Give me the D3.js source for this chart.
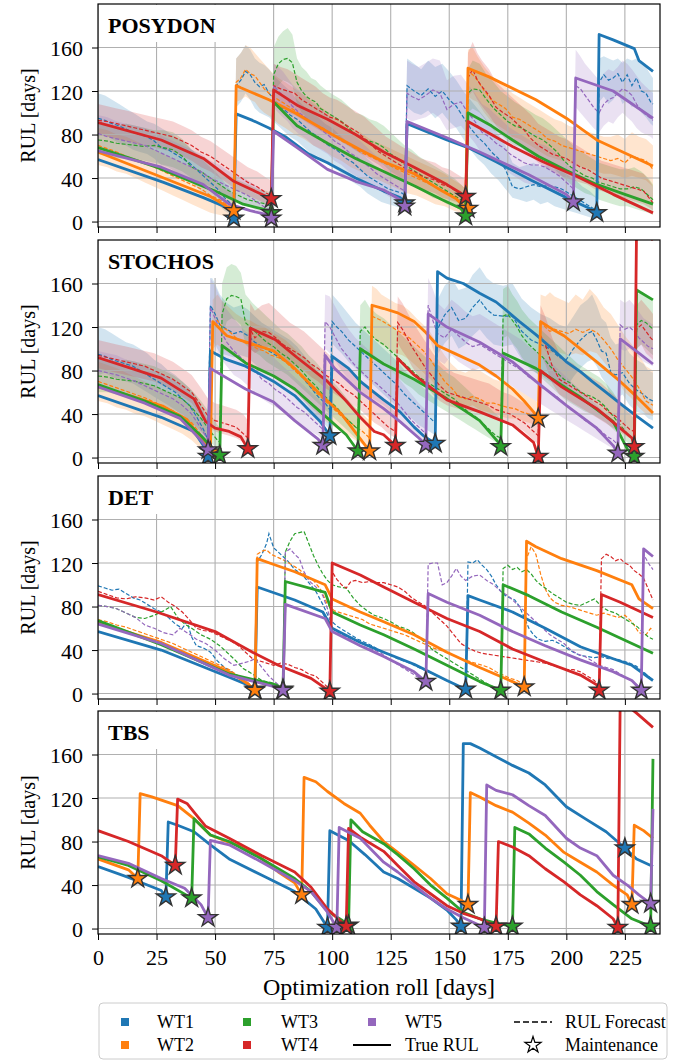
<!DOCTYPE html>
<html>
<head>
<meta charset="utf-8">
<script src="https://cdn.jsdelivr.net/npm/d3@7"></script>
<style>
  body { margin: 0; background: #fff; }
  svg text { font-family: "Liberation Serif"; }
</style>
</head>
<body>
<div id="chart"></div>
<script>
const turbines = ["WT1", "WT2", "WT3", "WT4", "WT5"];
const turbineColors = ["#1f77b4", "#ff7f0e", "#2ca02c", "#d62728", "#9467bd"];
const panelNames = ["POSYDON", "STOCHOS", "DET", "TBS"];
const xTicks = [0, 25, 50, 75, 100, 125, 150, 175, 200, 225];
const yTicks = [0, 40, 80, 120, 160];

// true RUL, one [day, rul] list per turbine
const posydonTrue = [
  [[0,57],[28,36],[45,22],[56,12],[58,4],[59,99],[66,93],[73,86],[80,78],[90,62],[98,54],[110,40],[122,28],[129,22],[131,18],[132,90],[149,75],[158,68],[170,55],[185,38],[200,22],[210,12],[213,8],[214,172],[220,167],[229,159],[231,148],[237,138]],
  [[0,64],[27,41],[48,23],[55,14],[58,10],[59,125],[61,123],[73,112],[84,100],[100,80],[112,66],[122,55],[135,44],[147,28],[153,21],[157,12],[158,141],[167,133],[187,112],[200,95],[213,75],[237,51]],
  [[0,68],[25,50],[50,28],[62,16],[73,10],[74,8],[75,110],[85,88],[98,72],[110,58],[122,46],[135,33],[147,20],[155,12],[157,5],[158,100],[168,88],[177,75],[188,60],[200,47],[212,35],[225,25],[237,16]],
  [[0,91],[27,75],[45,58],[58,37],[66,29],[74,21],[75,121],[85,107],[98,94],[110,80],[122,64],[135,50],[149,34],[155,26],[157,23],[158,92],[168,80],[177,69],[190,55],[205,41],[220,25],[237,8]],
  [[0,65],[27,50],[45,34],[56,16],[65,10],[73,6],[74,3],[75,83],[85,68],[98,48],[110,37],[122,29],[129,20],[131,14],[132,92],[149,77],[163,64],[184,43],[200,25],[203,18],[204,132],[220,120],[237,95]]
];

const stochosTrue = [
  [[0,57],[27,37],[41,24],[45,11],[47,1],[48,98],[55,90],[63,84],[75,70],[84,57],[95,33],[99,20],[100,93],[107,82],[112,70],[122,53],[129,42],[135,28],[139,20],[144,13],[145,171],[149,165],[156,160],[163,151],[170,143],[174,136],[180,125],[187,113],[194,100],[200,88],[206,79],[211,70],[217,60],[224,48],[230,38],[237,27]],
  [[0,65],[15,56],[28,47],[38,35],[44,18],[48,5],[49,125],[55,112],[62,107],[75,98],[84,82],[95,58],[104,40],[110,23],[116,6],[117,140],[122,137],[128,133],[135,125],[140,115],[145,103],[152,96],[163,85],[170,75],[177,63],[182,52],[186,42],[188,36],[189,125],[194,118],[199,112],[206,100],[213,88],[218,79],[223,70],[230,56],[237,41]],
  [[0,67],[20,52],[35,38],[44,20],[50,6],[52,2],[53,103],[63,87],[75,75],[84,63],[95,42],[106,21],[111,6],[112,100],[122,86],[135,72],[149,54],[163,34],[171,14],[172,10],[173,96],[187,82],[205,57],[220,33],[226,8],[229,1],[230,154],[237,145]],
  [[0,92],[27,73],[41,54],[46,33],[50,27],[56,24],[61,19],[64,8],[65,119],[76,108],[85,92],[98,70],[106,52],[112,37],[118,24],[122,21],[126,13],[127,11],[128,91],[135,76],[149,53],[163,42],[177,30],[186,14],[188,1],[189,80],[198,65],[213,45],[223,27],[228,18],[229,10],[230,213],[237,200]],
  [[0,65],[20,50],[35,36],[44,16],[47,7],[48,82],[63,63],[75,51],[84,34],[94,17],[96,11],[97,94],[101,82],[112,60],[122,45],[129,33],[137,18],[140,12],[141,132],[149,120],[163,106],[177,88],[187,70],[200,48],[213,27],[220,11],[222,4],[223,109],[231,96],[237,86]]
];

const detTrue = [
  [[0,57],[27,40],[56,15],[64,8],[67,4],[68,98],[76,92],[84,86],[96,75],[100,60],[112,47],[122,38],[135,27],[149,12],[157,4],[158,90],[163,86],[177,75],[191,60],[206,43],[220,32],[228,26],[237,12]],
  [[0,65],[27,47],[56,20],[64,9],[67,3],[68,124],[76,118],[84,112],[97,100],[100,87],[112,75],[122,66],[135,54],[149,38],[163,24],[177,11],[182,6],[183,140],[187,135],[198,124],[213,113],[228,100],[231,87],[237,78]],
  [[0,67],[27,45],[56,18],[76,8],[79,4],[80,103],[97,93],[100,75],[112,63],[122,54],[135,41],[149,26],[163,11],[172,3],[173,100],[184,90],[198,75],[213,61],[237,37]],
  [[0,91],[25,75],[50,57],[66,38],[77,26],[91,14],[99,2],[100,120],[112,109],[122,98],[135,84],[149,69],[163,57],[177,41],[191,29],[206,17],[213,8],[214,3],[215,91],[223,84],[237,70]],
  [[0,64],[27,46],[56,17],[76,6],[79,3],[80,82],[97,69],[100,57],[112,44],[122,34],[135,20],[140,11],[141,92],[149,84],[163,72],[177,57],[191,44],[206,31],[220,20],[228,12],[232,3],[233,133],[237,126]]
];

const tbsTrue = [
  [[0,57],[13,47],[27,35],[29,29],[30,98],[34,95],[41,89],[48,77],[56,64],[70,49],[84,34],[93,18],[98,1],[99,90],[107,81],[114,68],[122,52],[128,46],[135,37],[142,28],[149,17],[153,8],[155,2],[156,170],[159,170],[163,166],[170,158],[177,150],[184,143],[191,132],[200,112],[208,101],[217,89],[225,74],[230,64],[237,57]],
  [[0,64],[13,54],[17,46],[18,124],[23,121],[34,113],[41,101],[48,86],[55,80],[63,74],[70,64],[77,52],[84,42],[87,31],[88,139],[93,135],[98,126],[105,115],[112,106],[116,95],[122,80],[128,70],[135,58],[142,46],[149,32],[155,26],[158,22],[159,125],[163,121],[170,113],[177,107],[184,97],[191,86],[199,70],[206,61],[213,52],[220,40],[226,31],[228,22],[229,95],[233,90],[237,83]],
  [[0,66],[13,58],[27,44],[40,28],[41,101],[48,86],[56,80],[70,64],[84,46],[91,34],[98,16],[104,8],[107,3],[108,100],[113,89],[122,78],[128,68],[135,55],[142,40],[149,28],[156,15],[163,9],[170,5],[177,2],[178,93],[184,87],[191,74],[199,61],[206,49],[213,34],[220,22],[228,9],[236,2],[237,156]],
  [[0,90],[13,80],[27,67],[33,58],[34,119],[38,115],[41,107],[46,94],[56,83],[70,67],[84,52],[91,38],[98,18],[106,2],[107,92],[112,84],[122,71],[128,58],[135,43],[142,32],[149,21],[156,14],[163,9],[170,2],[171,80],[177,75],[184,67],[191,55],[199,43],[206,31],[213,21],[220,9],[222,1],[223,210],[230,198],[237,185]],
  [[0,67],[13,60],[27,46],[37,37],[44,22],[47,10],[48,81],[56,77],[70,61],[84,44],[91,34],[98,15],[102,1],[103,93],[112,83],[122,61],[128,52],[135,40],[142,28],[149,18],[156,10],[162,4],[165,1],[166,132],[170,127],[177,123],[184,113],[191,104],[200,83],[206,74],[213,67],[220,49],[226,40],[231,31],[236,23],[237,110]]
];

// RUL forecasts with uncertainty band: [day, lower, mean, upper]
const posydonForecast = [
  [[0,78,95,118],[3,80,93,116],[6,76,90,112],[9,72,88,108],[12,70,85,104],[15,66,82,100],[18,64,80,96],[21,62,78,92],[24,58,74,90],[27,52,68,86],[30,50,66,82],[33,46,62,78],[36,42,58,74],[39,38,54,68],[42,32,48,62],[45,26,42,56],[48,20,36,50],[51,16,30,44],[54,10,22,36],[57,6,16,28],[58,4,12,24],
   [59,105,125,150],[61,110,130,155],[63,118,138,162],[65,112,135,158],[67,104,128,150],[69,100,124,146],[71,98,126,144],[73,96,118,140],[76,90,110,132],[79,84,104,126],[82,78,98,120],[85,74,94,112],[88,68,88,106],[91,62,82,100],[94,60,78,96],[97,54,72,90],[100,50,68,86],[103,46,64,80],[106,40,58,74],[109,36,54,70],[112,32,48,64],[115,26,42,58],[118,22,38,52],[121,18,34,48],[124,16,30,44],[127,14,28,42],[130,12,26,40],[131,10,24,38],
   [132,105,125,150],[135,100,120,145],[138,98,116,140],[141,102,122,148],[144,95,115,142],[147,100,120,145],[150,92,112,138],[153,86,106,130],[156,76,96,120],[159,66,86,112],[162,58,78,104],[165,52,72,96],[168,44,64,88],[171,38,58,80],[174,30,48,70],[177,22,32,54],[180,20,30,50],[183,18,32,52],[186,20,34,54],[189,16,32,50],[192,18,33,52],[195,14,32,48],[198,12,30,46],[201,10,26,42],[204,8,22,38],[207,6,18,32],[210,4,14,28],[213,2,10,22],
   [214,110,128,150],[216,115,135,152],[218,108,130,150],[220,112,132,148],[222,118,136,150],[224,108,128,146],[226,112,135,150],[228,105,125,148],[230,110,132,150],[232,100,120,145],[234,96,118,142],[236,90,110,135],[237,88,108,132]],
  [[0,52,70,86],[4,50,67,84],[8,46,64,80],[12,44,60,78],[16,40,57,74],[20,36,54,70],[24,32,50,66],[28,28,46,62],[32,24,42,58],[36,20,38,54],[40,16,34,50],[44,12,30,46],[48,8,24,40],[52,6,20,34],[56,4,14,28],[58,3,12,24],
   [59,110,128,150],[61,112,132,155],[63,115,140,162],[65,112,136,160],[67,110,134,155],[69,104,128,150],[71,100,122,145],[74,96,116,138],[77,90,112,132],[80,86,108,128],[84,80,102,122],[88,76,96,116],[92,70,90,110],[96,66,86,104],[100,60,80,98],[104,56,74,92],[108,50,70,86],[112,46,64,82],[116,42,60,76],[120,38,56,72],[124,34,52,68],[128,30,48,64],[132,26,44,60],[136,24,40,56],[140,20,36,52],[144,16,32,48],[148,14,28,44],[152,10,24,38],[155,8,20,34],[157,6,16,30],
   [158,115,138,158],[160,112,135,160],[162,110,130,152],[165,100,120,142],[168,92,112,134],[171,88,108,128],[174,84,104,124],[177,78,96,118],[180,76,94,114],[183,72,90,110],[186,68,86,106],[189,64,82,102],[192,60,76,98],[195,58,74,94],[198,56,70,92],[201,54,68,88],[204,52,66,86],[207,50,64,84],[210,48,62,82],[213,46,60,80],[216,44,58,78],[219,44,56,78],[222,42,58,80],[225,40,54,76],[228,42,60,82],[231,40,58,78],[234,38,56,76],[237,32,48,70]],
  [[0,62,75,92],[4,60,74,90],[8,58,72,88],[12,58,71,90],[16,56,70,88],[20,56,69,86],[24,54,70,84],[28,52,68,84],[32,50,66,82],[36,46,60,76],[40,40,50,66],[44,36,46,60],[48,32,40,54],[52,28,34,48],[56,22,28,42],[60,18,24,38],[64,14,20,34],[68,12,18,30],[72,10,16,28],[74,8,14,26],
   [75,115,135,160],[77,125,145,170],[79,130,149,175],[81,128,150,178],[83,125,146,172],[85,108,128,150],[87,100,120,142],[89,96,115,138],[91,92,112,132],[93,90,110,130],[95,86,104,125],[98,82,100,120],[101,78,96,116],[104,74,92,112],[107,70,86,106],[110,66,80,100],[113,62,76,98],[116,60,74,94],[119,56,72,92],[122,52,68,88],[125,46,62,82],[128,42,58,76],[131,38,52,70],[134,34,48,66],[137,30,44,60],[140,26,40,56],[143,22,36,52],[146,20,32,48],[149,16,28,44],[152,14,24,40],[155,10,20,34],[157,8,16,30],
   [158,100,118,140],[160,104,122,148],[163,100,121,145],[166,92,112,135],[169,84,104,128],[172,80,98,120],[175,74,92,115],[178,70,88,110],[181,68,86,106],[184,64,82,102],[187,60,78,98],[190,56,75,95],[193,52,70,90],[196,46,64,84],[199,40,56,78],[202,34,50,72],[205,30,46,66],[208,26,42,62],[211,24,40,58],[214,20,36,54],[217,18,34,52],[220,16,32,50],[223,14,30,48],[226,14,30,48],[229,12,32,50],[232,10,30,46],[235,8,24,40],[237,6,20,34]],
  [[0,80,93,108],[4,78,92,106],[8,76,90,104],[12,74,88,102],[16,72,86,100],[20,70,84,98],[24,68,82,96],[28,66,80,94],[32,64,78,92],[36,60,74,88],[40,56,70,84],[44,50,64,78],[48,46,60,74],[52,40,54,68],[56,34,48,62],[60,28,42,56],[64,24,36,50],[68,20,32,46],[72,16,26,40],[74,14,24,38],
   [75,108,125,145],[78,104,122,142],[81,100,120,140],[84,98,118,136],[87,94,112,132],[90,90,108,128],[93,86,104,124],[96,82,100,118],[99,78,96,114],[102,76,94,112],[105,72,90,108],[108,68,86,104],[111,64,82,100],[114,60,76,96],[117,56,70,90],[120,52,64,84],[123,46,60,78],[126,42,56,74],[129,40,52,70],[132,36,48,66],[135,34,46,62],[138,30,42,58],[141,28,40,56],[144,26,38,54],[147,22,34,50],[150,20,32,48],[153,18,28,44],[156,16,25,40],[157,14,24,38],
   [158,115,132,155],[160,120,140,165],[162,112,130,155],[164,106,124,148],[167,98,116,140],[170,88,105,128],[173,82,100,122],[176,78,96,116],[179,72,90,110],[182,66,84,104],[185,60,76,98],[188,54,70,90],[191,50,66,86],[194,46,62,82],[197,42,60,78],[200,40,58,76],[203,38,54,72],[206,36,50,68],[209,34,48,64],[212,30,44,60],[215,28,40,56],[218,26,38,54],[221,24,36,52],[224,22,34,50],[227,20,32,48],[230,18,30,46],[233,16,28,44],[236,12,20,36],[237,10,17,32]],
  [[0,66,81,98],[4,64,78,96],[8,62,76,92],[12,60,74,90],[16,58,72,88],[20,56,70,86],[24,52,66,82],[28,48,62,78],[32,46,58,74],[36,42,54,70],[40,38,50,66],[44,34,46,62],[48,30,40,56],[52,26,36,52],[56,22,32,46],[60,18,28,42],[64,14,24,38],[68,10,18,32],[72,6,12,26],[74,5,10,24],
   [75,105,125,145],[77,100,120,142],[79,96,116,138],[81,92,112,132],[83,86,106,126],[86,80,100,120],[89,76,95,114],[92,70,90,108],[95,66,85,104],[98,62,80,98],[101,56,74,92],[104,52,70,88],[107,46,64,82],[110,42,60,78],[113,38,55,72],[116,34,50,66],[119,30,44,60],[122,26,40,56],[125,22,36,52],[128,18,32,48],[131,14,28,42],
   [132,95,118,148],[134,92,115,145],[137,94,112,142],[140,96,116,146],[143,100,121,150],[146,95,118,148],[149,84,103,130],[152,86,108,134],[155,88,110,135],[158,80,100,126],[161,72,92,118],[164,62,82,108],[167,58,78,104],[170,54,72,98],[173,50,68,92],[176,44,62,86],[179,40,58,82],[182,36,54,78],[185,34,52,74],[188,34,52,72],[191,32,50,70],[194,30,46,66],[197,26,42,60],[200,22,36,54],[203,18,30,48],
   [204,105,125,158],[206,100,122,152],[208,95,116,145],[210,90,110,140],[212,85,104,135],[214,82,100,130],[216,88,108,136],[218,92,112,140],[220,90,114,138],[222,96,118,142],[224,100,122,148],[226,96,120,145],[228,92,116,140],[230,86,108,134],[232,82,102,128],[234,80,98,124],[236,78,95,120],[237,76,93,118]]
];

const stochosForecast = [
  [[0,76,95,120],[3,78,93,118],[6,74,90,114],[9,72,88,110],[12,70,86,106],[15,68,84,104],[18,64,80,100],[21,60,76,96],[24,56,72,90],[27,52,68,86],[30,48,64,80],[33,44,60,76],[36,38,54,70],[39,32,48,64],[42,24,38,56],[45,14,26,44],[47,6,16,34],
   [48,110,140,168],[50,104,132,160],[52,96,122,150],[55,94,118,142],[58,92,114,138],[61,94,116,140],[64,92,112,136],[67,86,106,130],[70,80,102,124],[73,78,98,120],[76,74,94,116],[79,70,90,112],[82,66,86,108],[85,60,80,102],[88,52,72,94],[91,44,64,86],[94,36,56,78],[97,30,50,70],[99,26,44,64],
   [100,105,125,150],[102,100,120,145],[104,96,116,140],[107,88,108,132],[110,82,102,124],[113,76,96,118],[116,70,90,112],[119,64,84,106],[122,58,78,100],[125,52,72,94],[128,46,66,88],[131,40,58,80],[134,36,52,74],[137,30,46,68],[140,26,40,62],[143,22,34,56],[144,20,32,54],
   [145,95,118,145],[148,105,131,158],[151,112,138,165],[154,100,126,154],[157,104,128,156],[160,112,138,168],[163,118,145,175],[166,110,136,165],[169,104,131,160],[173,102,130,158],[177,104,130,160],[181,90,116,146],[185,80,108,138],[189,76,104,132],[193,70,100,128],[197,66,92,122],[200,64,90,120],[203,74,100,130],[206,82,108,140],[209,88,114,145],[211,90,116,150],[213,84,108,140],[215,74,98,128],[217,68,96,124],[219,56,78,110],[221,54,76,104],[224,58,78,106],[227,48,68,96],[230,42,62,90],[233,40,58,86],[235,36,54,80],[237,34,52,78]],
  [[0,52,70,88],[4,50,67,85],[8,46,64,82],[12,44,61,78],[16,40,58,74],[20,38,55,70],[24,34,51,66],[28,30,47,62],[32,26,43,58],[36,22,38,54],[40,16,32,48],[43,10,24,40],[46,4,14,30],[48,2,8,24],
   [49,100,122,145],[51,104,126,150],[53,100,120,144],[56,96,116,138],[59,92,110,132],[62,88,106,128],[65,86,104,126],[68,82,100,122],[71,80,98,120],[74,76,94,116],[77,72,92,112],[80,68,88,108],[83,62,82,102],[86,56,76,96],[89,50,70,90],[92,44,62,84],[95,38,56,76],[98,32,50,70],[101,28,44,64],[104,24,38,58],[107,20,34,52],[110,16,28,46],[113,12,24,40],[116,8,18,34],
   [117,110,130,158],[119,108,128,155],[121,104,126,150],[124,100,122,146],[127,96,118,142],[130,94,114,140],[133,90,110,135],[136,84,104,128],[139,78,98,122],[142,72,90,115],[145,64,80,104],[148,56,70,94],[151,50,64,86],[154,46,56,80],[157,46,54,78],[160,48,56,82],[163,44,54,80],[166,42,50,76],[169,40,50,72],[172,38,48,70],[175,36,46,66],[178,36,45,64],[181,34,42,60],[184,32,40,56],[187,30,38,52],[188,30,37,50],
   [189,105,125,150],[191,98,120,148],[193,96,116,152],[195,98,118,148],[198,96,116,145],[201,94,114,142],[204,96,118,150],[207,94,115,145],[210,98,118,155],[213,96,115,148],[216,88,108,138],[219,80,100,132],[222,70,90,122],[225,60,82,112],[228,54,74,104],[231,46,64,94],[234,40,52,84],[237,38,48,80]],
  [[0,60,75,92],[4,60,74,90],[8,58,72,88],[12,56,71,90],[16,56,70,88],[20,54,68,86],[24,52,66,84],[28,48,62,80],[32,44,58,76],[36,40,54,70],[40,32,46,62],[44,24,36,52],[48,14,24,40],[51,8,16,30],[52,6,14,28],
   [53,110,132,160],[55,125,146,175],[57,128,149,178],[59,126,148,176],[61,122,146,170],[63,104,124,150],[66,98,118,142],[69,94,112,136],[72,88,106,130],[75,84,102,124],[78,80,96,118],[81,76,92,114],[84,70,86,108],[87,64,80,102],[90,58,72,94],[93,52,66,88],[96,46,58,80],[99,40,52,72],[102,34,46,66],[105,28,38,58],[108,22,32,50],[111,16,26,44],
   [112,96,116,140],[114,100,120,145],[116,94,114,138],[119,90,108,132],[122,86,104,128],[125,80,98,122],[128,74,92,116],[131,68,86,110],[134,64,80,104],[137,58,74,98],[140,54,70,92],[143,50,66,88],[146,46,62,84],[149,42,58,78],[152,38,54,74],[155,34,48,68],[158,30,42,62],[161,26,38,56],[164,22,32,52],[167,18,26,46],[170,14,20,40],[172,12,18,36],
   [173,110,130,155],[175,112,132,158],[177,105,126,150],[179,100,120,144],[181,92,112,136],[184,84,104,128],[187,78,98,122],[190,72,92,116],[193,66,84,110],[196,60,78,104],[199,54,72,98],[202,50,68,92],[205,46,62,86],[208,42,58,82],[211,40,56,78],[214,36,52,74],[217,32,46,68],[220,26,38,60],[223,20,30,50],[226,14,22,42],[229,10,16,36],
   [230,100,122,150],[232,104,126,152],[234,100,124,150],[236,96,120,146],[237,94,118,144]],
  [[0,82,94,108],[4,80,92,106],[8,78,90,104],[12,76,88,102],[16,74,86,100],[20,72,84,98],[24,70,80,96],[28,66,76,92],[32,62,72,88],[36,56,66,82],[40,50,60,76],[44,38,48,64],[47,28,38,54],[50,24,34,50],[53,22,32,48],[56,20,30,46],[59,18,28,44],[62,14,22,40],[64,10,18,34],
   [65,100,118,142],[67,96,110,135],[70,100,116,140],[73,102,115,142],[76,96,110,136],[79,90,104,130],[82,86,100,124],[85,84,96,120],[88,80,92,116],[91,74,86,110],[94,70,82,104],[97,64,76,98],[100,60,72,92],[103,56,68,88],[106,52,62,82],[109,48,58,78],[112,44,52,72],[115,38,46,66],[118,32,40,60],[121,28,34,54],[124,22,28,48],[127,18,24,42],
   [128,105,124,148],[130,98,118,142],[132,92,110,134],[134,84,102,126],[137,74,92,116],[140,66,82,106],[143,58,74,96],[146,52,66,88],[149,48,60,82],[152,46,58,78],[155,44,56,76],[158,42,54,74],[161,42,52,72],[164,40,50,70],[167,38,48,68],[170,36,44,64],[173,34,42,60],[176,32,40,58],[179,28,36,54],[182,24,32,50],[185,18,26,44],[188,12,20,38],
   [189,96,112,140],[191,86,104,130],[194,68,84,110],[197,58,72,96],[200,54,68,90],[203,50,64,86],[206,46,60,80],[209,42,56,76],[212,38,52,72],[215,34,48,68],[218,30,42,62],[221,26,38,56],[224,22,32,50],[227,18,26,44],[229,16,24,40],
   [230,100,118,140],[232,104,122,145],[234,96,116,140],[236,92,110,135],[237,90,108,132]],
  [[0,64,80,98],[4,62,78,96],[8,60,76,94],[12,58,73,90],[16,56,70,88],[20,52,66,84],[24,48,62,80],[28,44,58,76],[32,40,54,72],[36,34,48,66],[40,26,40,58],[43,18,30,48],[46,10,20,38],[47,8,16,34],
   [48,110,138,165],[50,100,128,158],[52,92,118,148],[55,84,106,136],[58,76,98,128],[61,72,92,120],[64,66,86,114],[67,60,80,108],[70,54,72,100],[73,50,68,96],[76,46,62,90],[79,42,58,84],[82,38,52,78],[85,32,46,72],[88,28,42,66],[91,24,36,60],[94,20,30,54],[96,16,26,48],
   [97,100,125,150],[99,96,120,148],[101,90,112,140],[104,80,100,128],[107,72,92,118],[110,66,84,110],[113,60,78,104],[116,56,72,98],[119,52,68,92],[122,48,62,86],[125,42,56,80],[128,36,50,74],[131,30,42,66],[134,24,34,58],[137,18,28,50],[140,14,22,44],
   [141,115,140,165],[143,100,126,155],[145,90,114,142],[148,86,110,136],[151,94,118,145],[154,88,112,140],[157,84,106,134],[160,80,102,130],[163,82,104,132],[166,78,100,128],[169,74,96,124],[172,72,92,120],[175,68,88,116],[178,64,84,112],[181,60,80,108],[184,56,74,102],[187,52,70,98],[190,48,64,92],[193,44,60,88],[196,40,56,82],[199,36,50,76],[202,32,44,70],[205,28,40,64],[208,24,34,58],[211,20,30,52],[214,16,26,46],[217,12,20,40],[220,8,16,34],[222,6,12,30],
   [223,100,122,145],[225,98,118,142],[227,100,120,145],[229,96,116,140],[231,92,110,134],[233,88,106,128],[235,86,102,125],[237,84,100,122]]
];

// DET forecasts have no band: [day, mean]
const detForecast = [
  [[0,99],[3,97],[6,95],[9,96],[12,92],[15,88],[18,86],[21,82],[24,78],[27,75],[30,70],[33,64],[36,60],[38,66],[40,52],[42,44],[45,42],[48,38],[51,30],[54,24],[57,20],[60,16],[63,10],[66,6],[67,4],
   [68,121],[70,128],[72,138],[73,147],[75,134],[77,130],[79,126],[81,122],[84,114],[87,110],[90,102],[93,94],[96,82],[99,68],[102,62],[105,58],[108,54],[111,50],[114,47],[117,44],[120,40],[123,37],[126,34],[129,31],[132,29],[135,26],[138,23],[141,20],[144,17],[147,14],[150,11],[153,8],[156,5],[157,4],
   [158,121],[160,120],[162,123],[164,118],[166,114],[168,108],[170,100],[172,94],[174,90],[176,88],[178,86],[180,80],[182,70],[184,60],[186,54],[188,50],[191,48],[194,49],[197,46],[200,42],[203,38],[206,35],[209,34],[212,33],[215,34],[218,32],[221,32],[224,30],[227,28],[230,25],[233,20],[236,14],[237,12]],
  [[0,68],[4,66],[8,63],[12,61],[16,58],[20,55],[24,52],[28,49],[32,46],[36,42],[40,38],[44,34],[48,30],[52,26],[56,22],[60,16],[64,10],[67,5],
   [68,128],[70,131],[72,132],[74,128],[77,125],[80,122],[83,118],[86,114],[89,108],[92,104],[95,96],[98,82],[101,76],[104,74],[107,72],[110,70],[113,68],[116,64],[119,62],[122,60],[125,58],[128,56],[131,54],[134,51],[137,48],[140,45],[143,42],[146,40],[149,38],[152,35],[155,32],[158,30],[161,28],[164,26],[167,24],[170,20],[173,17],[176,14],[179,12],[182,8],
   [183,124],[185,135],[187,128],[189,110],[191,96],[193,88],[195,84],[198,81],[201,80],[204,78],[207,76],[210,74],[213,72],[216,74],[219,72],[222,70],[225,72],[228,66],[231,56],[234,54],[236,60],[237,58]],
  [[0,81],[4,80],[8,78],[12,74],[16,70],[20,69],[24,72],[28,76],[31,80],[34,70],[37,64],[40,60],[44,54],[48,50],[52,44],[55,38],[58,32],[62,23],[66,18],[70,12],[74,10],[79,6],
   [80,130],[82,140],[84,147],[86,148],[88,149],[90,138],[92,127],[94,118],[96,110],[98,104],[100,100],[103,98],[106,97],[109,88],[112,81],[115,76],[118,72],[122,69],[125,66],[128,62],[131,60],[134,57],[137,52],[140,46],[143,40],[146,36],[149,32],[152,28],[155,24],[158,20],[161,16],[164,12],[167,8],[170,5],[172,3],
   [173,115],[175,118],[177,114],[179,116],[181,112],[183,114],[185,110],[187,104],[189,100],[191,97],[194,92],[197,88],[200,84],[203,82],[206,81],[209,84],[212,87],[215,80],[218,76],[221,74],[224,70],[227,66],[230,62],[233,56],[235,52],[237,50]],
  [[0,94],[4,91],[8,88],[12,87],[16,89],[20,88],[24,86],[27,89],[30,84],[33,80],[36,75],[39,68],[42,60],[45,58],[48,57],[51,54],[54,51],[57,48],[60,44],[63,38],[66,32],[69,30],[72,28],[75,26],[78,28],[81,27],[84,24],[87,22],[90,18],[93,16],[96,10],[99,4],
   [100,112],[102,105],[104,100],[106,97],[108,103],[110,104],[113,102],[116,103],[119,102],[122,102],[125,100],[128,98],[131,94],[134,88],[137,84],[140,80],[143,74],[146,68],[149,62],[152,54],[155,46],[158,42],[161,39],[164,37],[167,36],[170,35],[173,34],[176,33],[179,32],[182,31],[185,30],[188,29],[191,28],[194,26],[197,24],[200,22],[203,22],[206,20],[209,16],[212,12],[214,6],
   [215,124],[217,128],[219,126],[221,122],[223,124],[225,120],[227,118],[229,113],[231,110],[233,106],[235,96],[237,86]],
  [[0,81],[4,80],[8,78],[12,74],[16,70],[20,63],[24,60],[28,56],[32,54],[35,60],[38,56],[42,50],[46,46],[50,40],[54,32],[58,26],[62,28],[65,30],[67,32],[70,24],[73,16],[76,10],[79,4],
   [80,130],[82,133],[84,128],[86,124],[88,112],[90,104],[92,100],[94,96],[96,90],[98,78],[100,60],[103,55],[106,52],[109,48],[112,44],[115,42],[118,40],[121,37],[124,32],[127,28],[130,24],[133,20],[136,16],[139,12],[140,10],
   [141,119],[143,120],[145,120],[147,100],[149,102],[151,108],[153,115],[155,108],[157,104],[160,108],[163,109],[166,104],[169,100],[172,94],[175,90],[178,84],[181,78],[184,72],[187,66],[190,60],[193,54],[196,50],[199,46],[202,40],[205,36],[208,34],[211,30],[214,26],[217,24],[220,22],[223,18],[226,14],[229,10],[232,5],
   [233,128],[235,120],[237,114]]
];

// maintenance events: [turbine index, day, rul]
const posydonMaint = [[0,58,3],[1,58,10],[2,74,8],[3,74,21],[4,74,3],[0,131,17],[4,131,14],[1,158,12],[3,157,23],[2,157,5],[4,203,18],[0,213,8]];
const stochosMaint = [[1,48,5],[0,47,1],[4,47,7],[2,52,2],[3,64,8],[4,96,11],[0,99,20],[2,111,6],[1,116,6],[3,127,11],[4,140,12],[0,144,13],[2,172,10],[1,188,36],[3,188,1],[4,222,4],[2,229,1],[3,229,10]];
const detMaint = [[0,67,4],[1,67,3],[2,79,4],[4,79,3],[3,99,2],[4,140,11],[0,157,4],[2,172,3],[1,182,6],[3,214,3],[4,232,3]];
const tbsMaint = [[1,17,46],[0,29,29],[3,33,58],[2,40,28],[4,47,10],[1,87,31],[0,98,1],[4,102,1],[2,107,3],[3,106,2],[0,155,2],[1,158,22],[4,165,1],[3,170,2],[2,177,2],[3,222,1],[0,225,74],[1,228,22],[2,236,2],[4,236,23]];

const panels = [
  { name: panelNames[0], truth: posydonTrue, forecast: posydonForecast, band: true, maint: posydonMaint },
  { name: panelNames[1], truth: stochosTrue, forecast: stochosForecast, band: true, maint: stochosMaint },
  { name: panelNames[2], truth: detTrue, forecast: detForecast, band: false, maint: detMaint },
  { name: panelNames[3], truth: tbsTrue, forecast: null, band: false, maint: tbsMaint }
];

const FONT = "Liberation Serif";
const width = 677, height = 1061;
const left = 98, right = 660;
const panelTops = [4, 240, 476, 711];
const panelH = 223;

const svg = d3.select("#chart").append("svg")
  .attr("width", width)
  .attr("height", height)
  .attr("font-family", FONT);

const x = d3.scaleLinear().domain([0, 240]).range([left, right]);

// star marker with outer radius R
const starPath = R => d3.symbol().type(d3.symbolStar).size(R * R / 0.8908130915292852)();

panels.forEach((p, i) => {
  const top = panelTops[i];
  const y = d3.scaleLinear().domain([-5, 200]).range([top + panelH, top]);
  const g = svg.append("g");

  g.append("clipPath").attr("id", "clip" + i)
    .append("rect")
    .attr("x", left).attr("y", top)
    .attr("width", right - left).attr("height", panelH);

  const plot = g.append("g").attr("clip-path", `url(#clip${i})`);

  // uncertainty bands
  if (p.band) {
    const area = d3.area()
      .x(d => x(d[0]))
      .y0(d => y(d[1]))
      .y1(d => y(d[3]));
    plot.selectAll(".band")
      .data(p.forecast)
      .join("path")
      .attr("d", area)
      .attr("fill", (d, k) => turbineColors[k])
      .attr("fill-opacity", 0.2);
  }

  // grid
  plot.selectAll(".gx").data(xTicks).join("line")
    .attr("x1", d => x(d)).attr("x2", d => x(d))
    .attr("y1", top).attr("y2", top + panelH)
    .attr("stroke", "#b0b0b0").attr("stroke-width", 1.1);
  plot.selectAll(".gy").data(yTicks).join("line")
    .attr("x1", left).attr("x2", right)
    .attr("y1", d => y(d)).attr("y2", d => y(d))
    .attr("stroke", "#b0b0b0").attr("stroke-width", 1.1);

  // dashed forecasts
  if (p.forecast) {
    const fLine = d3.line()
      .x(d => x(d[0]))
      .y(d => y(p.band ? d[2] : d[1]));
    plot.selectAll(".fc")
      .data(p.forecast)
      .join("path")
      .attr("d", fLine)
      .attr("fill", "none")
      .attr("stroke", (d, k) => turbineColors[k])
      .attr("stroke-width", 1.2)
      .attr("stroke-dasharray", "4,2");
  }

  // true RUL
  const tLine = d3.line().x(d => x(d[0])).y(d => y(d[1]));
  plot.selectAll(".tr")
    .data(p.truth)
    .join("path")
    .attr("d", tLine)
    .attr("fill", "none")
    .attr("stroke", (d, k) => turbineColors[k])
    .attr("stroke-width", 2.8)
    .attr("stroke-linejoin", "round");

  // maintenance stars
  plot.selectAll(".star")
    .data(p.maint)
    .join("path")
    .attr("d", starPath(10))
    .attr("transform", d => `translate(${x(d[1])},${y(d[2])})`)
    .attr("fill", d => turbineColors[d[0]])
    .attr("stroke", "#333")
    .attr("stroke-width", 1.4);

  // title with white box
  const title = g.append("text")
    .attr("x", left + 10)
    .attr("y", top + 29)
    .attr("font-family", FONT)
    .attr("font-size", 22)
    .attr("font-weight", "bold")
    .text(p.name);
  const tw = title.node().getComputedTextLength();
  g.insert("rect", "text")
    .attr("x", left + 1).attr("y", top + 1)
    .attr("width", tw + 18).attr("height", 37)
    .attr("fill", "#fff");

  // frame
  g.append("rect")
    .attr("x", left).attr("y", top)
    .attr("width", right - left).attr("height", panelH)
    .attr("fill", "none").attr("stroke", "#000").attr("stroke-width", 1.2);

  // y axis
  const ya = g.append("g").attr("transform", `translate(${left},0)`)
    .call(d3.axisLeft(y).tickValues(yTicks).tickSize(6).tickPadding(9));
  ya.attr("font-family", FONT);
  ya.select(".domain").remove();
  ya.selectAll("line").attr("stroke", "#000");
  ya.selectAll("text").attr("font-size", 22).attr("fill", "#000").attr("dy", "0.38em");

  // x axis
  const xa = g.append("g").attr("transform", `translate(0,${top + panelH})`)
    .call(d3.axisBottom(x).tickValues(xTicks).tickSize(6).tickPadding(9));
  xa.attr("font-family", FONT);
  xa.select(".domain").remove();
  xa.selectAll("line").attr("stroke", "#000");
  xa.selectAll("text").attr("font-size", 22).attr("fill", "#000");
  if (i < panels.length - 1) xa.selectAll("text").remove();

  // y label
  g.append("text")
    .attr("transform", `translate(28,${top + panelH / 2}) rotate(-90)`)
    .attr("text-anchor", "middle")
    .attr("dominant-baseline", "central")
    .attr("font-family", FONT)
    .attr("font-size", 20)
    .text("RUL [days]");
});

// x label
svg.append("text")
  .attr("x", (left + right) / 2)
  .attr("y", 995)
  .attr("text-anchor", "middle")
  .attr("font-family", FONT)
  .attr("font-size", 24)
  .text("Optimization roll [days]");

// legend
const lg = svg.append("g");
lg.append("rect")
  .attr("x", 99).attr("y", 1003)
  .attr("width", 568).attr("height", 56)
  .attr("rx", 4)
  .attr("fill", "#fff")
  .attr("stroke", "#cccccc");

const rowY = [1022, 1045];
const colHandle = [125, 247, 372, 533];
const colText = [157, 281, 405, 565];
const legendItems = [
  { label: turbines[0], kind: "patch", color: turbineColors[0] },
  { label: turbines[1], kind: "patch", color: turbineColors[1] },
  { label: turbines[2], kind: "patch", color: turbineColors[2] },
  { label: turbines[3], kind: "patch", color: turbineColors[3] },
  { label: turbines[4], kind: "patch", color: turbineColors[4] },
  { label: "True RUL", kind: "solid" },
  { label: "RUL Forecast", kind: "dashed" },
  { label: "Maintenance", kind: "star" }
];
legendItems.forEach((it, k) => {
  const c = Math.floor(k / 2), r = k % 2;
  const cx = colHandle[c], cy = rowY[r];
  if (it.kind === "patch") {
    lg.append("rect").attr("x", cx - 4).attr("y", cy - 4)
      .attr("width", 8).attr("height", 8).attr("fill", it.color);
  } else if (it.kind === "solid") {
    lg.append("line").attr("x1", cx - 19).attr("x2", cx + 19)
      .attr("y1", cy).attr("y2", cy)
      .attr("stroke", "#000").attr("stroke-width", 2);
  } else if (it.kind === "dashed") {
    lg.append("line").attr("x1", cx - 19).attr("x2", cx + 19)
      .attr("y1", cy).attr("y2", cy)
      .attr("stroke", "#000").attr("stroke-width", 1.5)
      .attr("stroke-dasharray", "6,3");
  } else {
    lg.append("path").attr("d", starPath(8.5))
      .attr("transform", `translate(${cx},${cy})`)
      .attr("fill", "#fff").attr("stroke", "#000").attr("stroke-width", 1.2);
  }
  lg.append("text")
    .attr("x", colText[c]).attr("y", cy)
    .attr("dominant-baseline", "central")
    .attr("font-family", FONT)
    .attr("font-size", 18)
    .text(it.label);
});
</script>
</body>
</html>
